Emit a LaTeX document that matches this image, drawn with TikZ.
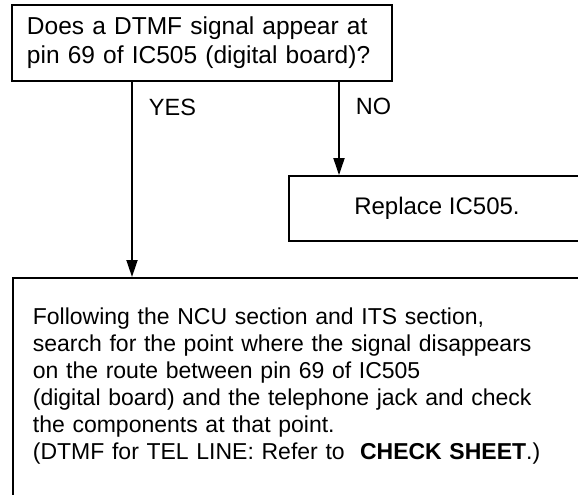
\documentclass[tikz,border=0pt]{standalone}
\usepackage{fontspec}
\setmainfont{Liberation Sans}
\usetikzlibrary{arrows.meta}
\tikzset{
  box/.style={draw, line width=1.8pt, align=left, inner sep=0pt},
  lbl/.style={inner sep=0pt, anchor=west, xshift=16pt},
}
\begin{document}
\begin{tikzpicture}[x=1pt,y=-1pt,line width=1.8pt,
    >={Triangle[length=17pt,width=11pt]},
    font=\fontsize{23.5}{27}\selectfont]
            \useasboundingbox (0,0) rectangle (578,495);
            \clip (0,0) rectangle (578,495);
            % question
            \node[box, minimum width=380pt, minimum height=76pt,
                  text width=350pt, font=\fontsize{24.5}{29}\selectfont] (q) at (202,43)
                 {Does a DTMF signal appear at\\pin 69 of IC505 (digital board)?};
            % answers
            \node[box, minimum width=296pt, minimum height=65pt, align=center,
                  font=\fontsize{24}{27}\selectfont] (rep) at (437,208.5)
                 {Replace IC505.};
            \node[box, anchor=north west, text width=545pt, inner xsep=20pt, inner ysep=30pt,
                  font=\fontsize{23}{27}\selectfont] (chk) at (12,277)
                 {Following the NCU section and ITS section,\\
                  search for the point where the signal disappears\\
                  on the route between pin 69 of IC505\\
                  (digital board) and the telephone jack and check\\
                  the components at that point.\\
                  (DTMF for TEL LINE: Refer to~ \textbf{CHECK SHEET}.)\rule[-60pt]{0pt}{60pt}};
            % connectors
            \draw[->] ([xshift=-70pt]q.south) -- ([xshift=-70pt]q.south |- chk.north)
                 node[lbl, pos=0.13] {YES};
            \draw[->] ([xshift=137pt]q.south) -- ([xshift=137pt]q.south |- rep.north)
                 node[lbl, pos=0.26] {NO};
        \end{tikzpicture}
\end{document}
